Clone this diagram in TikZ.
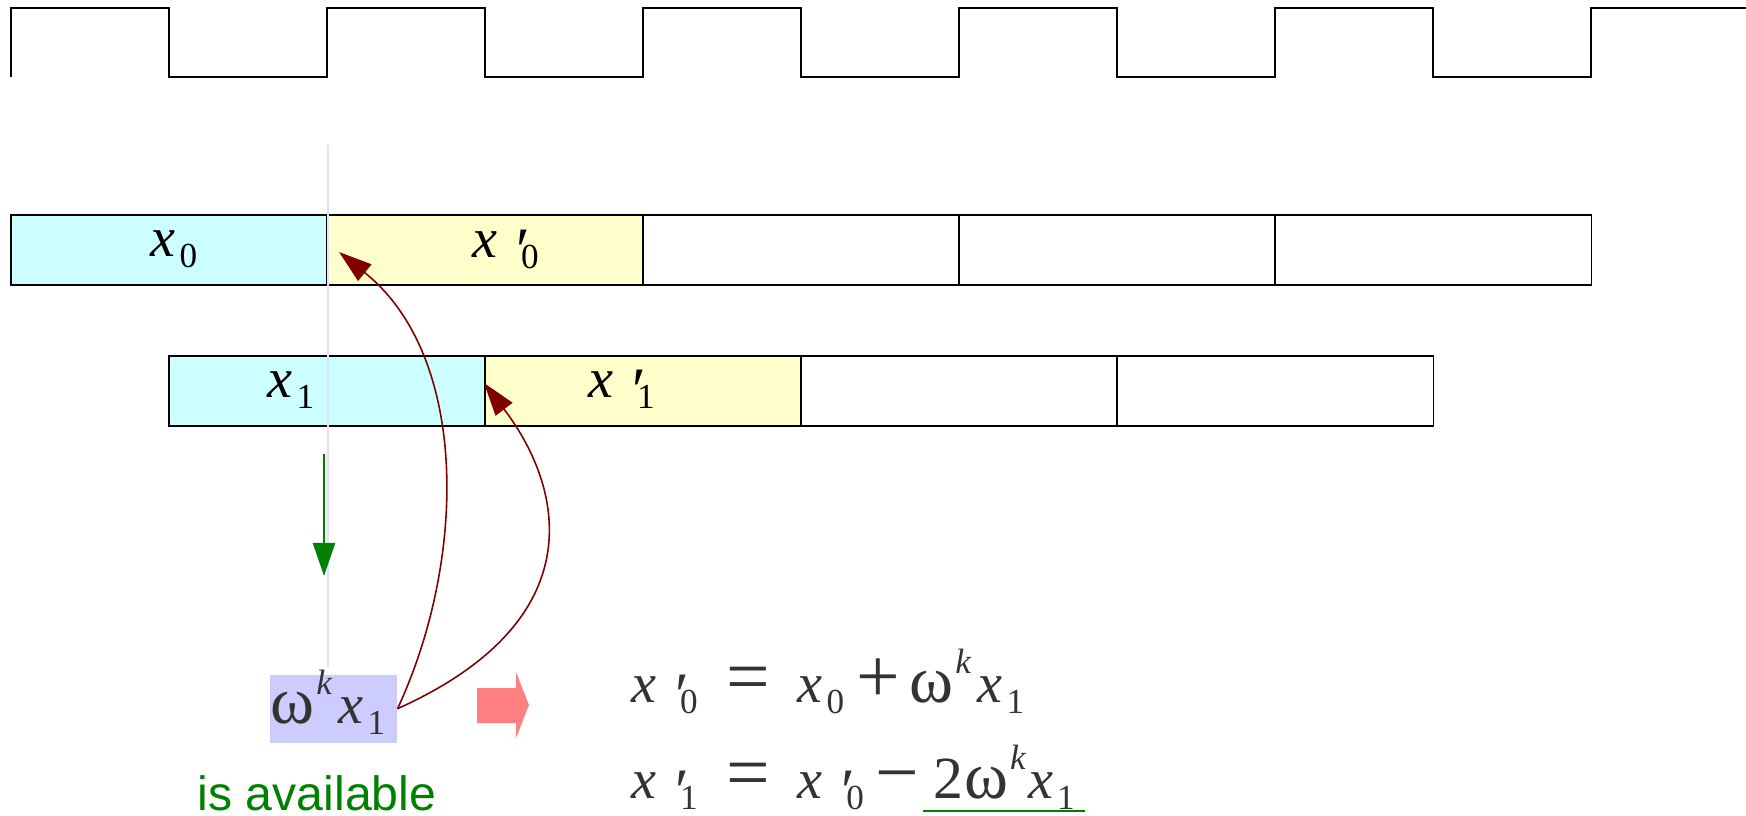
\documentclass[tikz,border=0pt]{standalone}
\usepackage{fontspec}
\setmainfont{Liberation Serif}
\newfontfamily\sansfont{Liberation Sans}
\usetikzlibrary{arrows.meta}

\definecolor{cellA}{HTML}{CCFFFF}
\definecolor{cellB}{HTML}{FFFFCC}
\definecolor{wbox}{HTML}{CCCCFF}
\definecolor{darkred}{HTML}{800000}
\definecolor{okgreen}{HTML}{008000}
\definecolor{pinkarr}{HTML}{FF8080}
\definecolor{guide}{HTML}{E0E0FF}
\definecolor{ink}{HTML}{333333}

\newcommand{\vx}{\textit{x}}
\newcommand{\dn}[1]{\raisebox{-3.4pt}{\fontsize{10}{10}\selectfont #1}}
\newcommand{\pr}{\raisebox{-4pt}{\fontsize{18}{18}\selectfont\textit{′}}}
\newcommand{\xs}[1]{\vx\hspace{1.1pt}\dn{#1}}
\newcommand{\xp}[1]{\vx\hspace{4.1pt}\rlap{\pr}\hspace{2.6pt}\dn{#1}}
\newcommand{\op}[1]{{\fontsize{22}{22}\selectfont #1}}
\newcommand{\wk}{{\fontsize{19}{19}\selectfont ω}\hspace{0.5pt}\raisebox{8pt}{\fontsize{10}{10}\selectfont\textit{k}}}

\begin{document}
\begin{tikzpicture}[x=0.01cm,y=-0.01cm,
  cell/.style={draw=black,line width=0.4pt,minimum width=3.16cm,minimum height=0.7cm,inner sep=0pt,outer sep=0pt,anchor=north west},
  lbl/.style={inner sep=0pt,anchor=base west,text=black,font=\fontsize{16}{18}\selectfont},
  eq/.style={inner sep=0pt,anchor=base west,text=ink,font=\fontsize{16}{18}\selectfont},
  link/.style={darkred,line width=0.45pt,-{Triangle[length=9.4pt,width=6pt]}}]
\useasboundingbox (0,0) rectangle (1746,815);
\draw[line width=0.5pt] (11,77) -- (11,8)
  \foreach \i in {0,...,4} { -- ({169+316*\i},8) -- ({169+316*\i},77) -- ({327+316*\i},77) -- ({327+316*\i},8) } -- (1746,8);

\node[cell,fill=cellA] (r0c0) at (11,215) {};
\node[cell,fill=cellB] (r0c1) at (327,215) {};
\foreach \i in {2,3,4} \node[cell] (r0c\i) at ({11+316*\i},215) {};
\node[cell,fill=cellA] (r1c0) at (169,356) {};
\node[cell,fill=cellB] (r1c1) at (485,356) {};
\foreach \i in {2,3} \node[cell] (r1c\i) at ({169+316*\i},356) {};

\node[lbl] (lx0) at (150,256) {\xs{0}};
\node[lbl] (lxp0) at (472,257) {\xp{0}};
\node[lbl] (lx1) at (267,397) {\xs{1}};
\node[lbl] (lxp1) at (588,397) {\xp{1}};

\draw[guide,line width=0.5pt] (328,145) -- (328,667);
\coordinate (g0) at (324,454); \coordinate (g1) at (324,576);
\draw[okgreen,line width=0.5pt,-{Triangle[length=9.4pt,width=6.3pt]}] (g0) -- (g1);

\node[fill=wbox,minimum width=1.27cm,minimum height=0.68cm,inner sep=0pt,anchor=north west] (w) at (269,674) {};
\node[eq] (wt) at (270,723) {\wk\hspace{1.8pt}\xs{1}};
\node[font=\sansfont\fontsize{13.7}{16}\selectfont,text=okgreen,inner sep=0pt,anchor=base] (avail) at (317,810) {is available};

\coordinate (t0) at (339,252); \coordinate (t1) at (484,383);
\draw[link] (w.east) .. controls +(69,-148) and +(131,105) .. (t0);
\draw[link] (w.east) .. controls +(200,-90) and +(78,102) .. (t1);

\fill[pinkarr] (477,688) -- (516,688) -- (516,672) -- (529,705) -- (516,738) -- (516,723) -- (477,723) -- cycle;

\node[eq] (e1) at (631,702) {\xp{0}\hspace{8.2pt}\op{=}\hspace{7.8pt}\xs{0}\hspace{3.6pt}\op{+}\hspace{2.6pt}\wk\hspace{1.8pt}\xs{1}};
\node[eq] (e2) at (631,798) {\xp{1}\hspace{8.2pt}\op{=}\hspace{7.8pt}\xp{0}\hspace{3.4pt}\op{−}};
\node[eq,inner xsep=1mm] (e3) at (923,798) {{\fontsize{17}{17}\selectfont 2}\hspace{0.2pt}\wk\hspace{0.6pt}\xs{1}};
\draw[okgreen,line width=0.6pt] (e3.south west) -- (e3.south east);
\end{tikzpicture}
\end{document}
